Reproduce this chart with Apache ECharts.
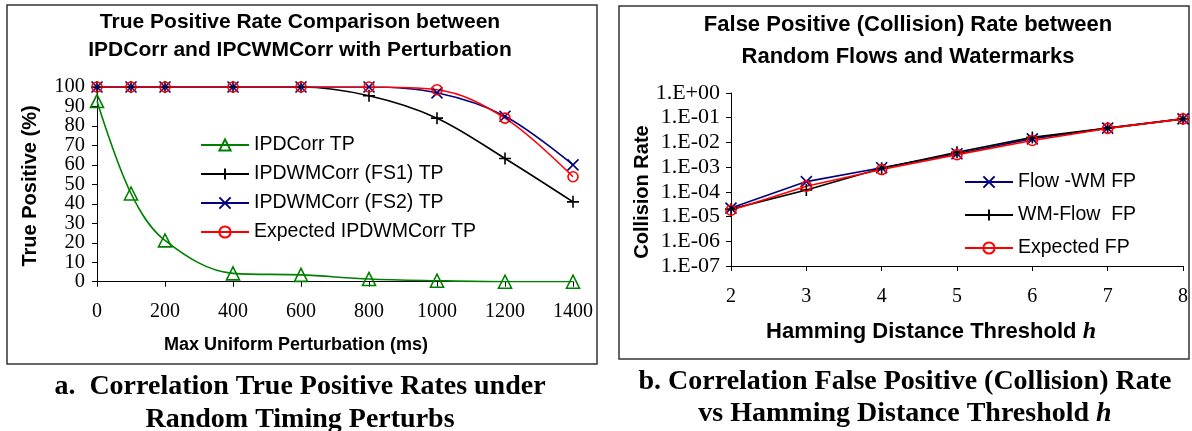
<!DOCTYPE html>
<html><head><meta charset="utf-8">
<script src="https://cdn.jsdelivr.net/npm/echarts@6/dist/echarts.min.js"></script>
<style>html,body{margin:0;padding:0;background:#fff}#c{width:1192px;height:431px}</style>
</head><body><div id="c"></div>
<script>
// ---- Left chart data ----
const perturbX = [0, 100, 200, 400, 600, 800, 1000, 1200, 1400];
const ipdCorrTP = [92.8, 45.3, 21.2, 4.3, 3.5, 1.4, 0.5, 0, 0];
const fs1TP = [100, 100, 100, 100, 100, 95.5, 84, 63.3, 41];
const fs2TP = [100, 100, 100, 100, 100, 100, 97, 85, 60];
const expectedTP = [100, 100, 100, 100, 100, 100, 98.6, 84, 53.9];
const leftNames = ['IPDCorr TP', 'IPDWMCorr (FS1) TP', 'IPDWMCorr (FS2) TP', 'Expected IPDWMCorr TP'];

// ---- Right chart data ----
const hammingX = [2, 3, 4, 5, 6, 7, 8];
const flowWMFP = [2.2e-5, 2.6e-4, 9.5e-4, 3.5e-3, 1.4e-2, 3.8e-2, 9e-2];
const wmFlowFP = [2.0e-5, 1.2e-4, 9.0e-4, 4.0e-3, 1.6e-2, 3.8e-2, 9e-2];
const expectedFP = [1.8e-5, 1.7e-4, 8.0e-4, 3.2e-3, 1.2e-2, 3.7e-2, 9e-2];
const rightNames = ['Flow -WM FP', 'WM-Flow  FP', 'Expected FP'];
const logTickLabels = ['1.E-07', '1.E-06', '1.E-05', '1.E-04', '1.E-03', '1.E-02', '1.E-01', '1.E+00'];

const SANS = 'Liberation Sans, Arial, sans-serif';
const SERIF = 'Liberation Serif, Times New Roman, serif';
const pair = (xs, ys) => xs.map((x, i) => [x, ys[i]]);

const GREEN = '#008000', BLACK = '#000000', BLUE = '#000080', RED = '#ff0000';
const PLUS = 'path://M5,0L5,10M0,5L10,5';
const CROSS = 'path://M0,0L10,10M10,0L0,10';

function mk(name, data, color, symbol, size, xi, yi, smooth) {
  return {
    name, type: 'line', xAxisIndex: xi, yAxisIndex: yi, data,
    smooth: smooth, symbol, symbolSize: size,
    lineStyle: { color, width: 1.6 },
    itemStyle: { color: 'rgba(255,255,255,0)', borderColor: color, borderWidth: 1.6 },
    emphasis: { disabled: true }, animation: false
  };
}

const axisLineStyle = { lineStyle: { color: '#000', width: 1 } };
const tickStyle = { show: true, length: 5, interval: 0, lineStyle: { color: '#000' } };
const plain = v => String(v);
const leftYLabel = { fontFamily: SERIF, fontSize: 20.5, color: '#000', margin: 12, interval: 0, hideOverlap: false };

const option = {
  animation: false,
  grid: [
    { left: 97, top: 87, width: 476, height: 194.7 },
    { left: 731, top: 93, width: 452, height: 173 }
  ],
  xAxis: [
    { gridIndex: 0, type: 'value', min: 0, max: 1400, interval: 200,
      axisLine: axisLineStyle, axisTick: tickStyle, splitLine: { show: false },
      axisLabel: { fontFamily: SERIF, fontSize: 20, color: '#000', margin: 20, formatter: plain,
        interval: 0, showMinLabel: true, showMaxLabel: true } },
    { gridIndex: 1, type: 'value', min: 2, max: 8, interval: 1,
      axisLine: axisLineStyle, axisTick: tickStyle, splitLine: { show: false },
      axisLabel: { fontFamily: SERIF, fontSize: 20, color: '#000', margin: 21, formatter: plain,
        interval: 0, showMinLabel: true, showMaxLabel: true } }
  ],
  yAxis: [
    // left chart: labels at multiples of 20
    { gridIndex: 0, type: 'value', min: 0, max: 100, interval: 10,
      axisLine: { show: true, lineStyle: { color: '#000' } }, axisTick: tickStyle, splitLine: { show: false },
      axisLabel: Object.assign({}, leftYLabel, { showMinLabel: true, showMaxLabel: true,
        formatter: v => (Math.round(v) % 20 === 0 ? String(v) : '') }) },
    // left chart overlay axis: labels at odd tens
    { gridIndex: 0, type: 'value', min: 0, max: 100, interval: 10, position: 'left', offset: 0,
      axisLine: { show: false }, axisTick: { show: false }, splitLine: { show: false },
      axisLabel: Object.assign({}, leftYLabel, {
        formatter: v => (Math.round(v) % 20 === 10 ? String(v) : '') }) },
    { gridIndex: 1, type: 'log', logBase: 10, min: 1e-7, max: 1,
      axisLine: { show: true, lineStyle: { color: '#000' } }, axisTick: tickStyle, splitLine: { show: false },
      axisLabel: { fontFamily: SERIF, fontSize: 22, color: '#000', margin: 11,
        interval: 0, showMinLabel: true, showMaxLabel: true, hideOverlap: false,
        formatter: v => logTickLabels[Math.round(Math.log10(v)) + 7] } }
  ],
  legend: [
    { orient: 'vertical', left: 195, top: 130, itemWidth: 48, itemHeight: 14, itemGap: 9,
      data: leftNames, textStyle: { fontFamily: SANS, fontSize: 19.5, color: '#000', lineHeight: 20 },
      selectedMode: false },
    { orient: 'vertical', left: 959, top: 167, itemWidth: 48, itemHeight: 14, itemGap: 13,
      data: rightNames, textStyle: { fontFamily: SANS, fontSize: 19.5, color: '#000', lineHeight: 20 },
      selectedMode: false }
  ],
  series: [
    mk(leftNames[0], pair(perturbX, ipdCorrTP), GREEN, 'triangle', 13, 0, 0, 0.35),
    mk(leftNames[1], pair(perturbX, fs1TP), BLACK, PLUS, 12, 0, 0, 0.35),
    mk(leftNames[2], pair(perturbX, fs2TP), BLUE, CROSS, 11, 0, 0, 0.35),
    mk(leftNames[3], pair(perturbX, expectedTP), RED, 'circle', 10, 0, 0, 0.35),
    mk(rightNames[0], pair(hammingX, flowWMFP), BLUE, CROSS, 11, 1, 2, false),
    mk(rightNames[1], pair(hammingX, wmFlowFP), BLACK, PLUS, 12, 1, 2, false),
    mk(rightNames[2], pair(hammingX, expectedFP), RED, 'circle', 10, 1, 2, false)
  ],
  graphic: [
    { type: 'rect', shape: { x: 7, y: 5, width: 590, height: 359 }, style: { fill: 'none', stroke: '#333', lineWidth: 1.5 }, silent: true },
    { type: 'rect', shape: { x: 619, y: 6, width: 570, height: 353 }, style: { fill: 'none', stroke: '#333', lineWidth: 1.5 }, silent: true },
    { type: 'text', x: 300, y: 22, style: { text: 'True Positive Rate Comparison between', font: 'bold 21px ' + SANS, textAlign: 'center', textVerticalAlign: 'middle', fill: '#000' } },
    { type: 'text', x: 300, y: 50, style: { text: 'IPDCorr and IPCWMCorr with Perturbation', font: 'bold 21px ' + SANS, textAlign: 'center', textVerticalAlign: 'middle', fill: '#000' } },
    { type: 'text', x: 908, y: 25, style: { text: 'False Positive (Collision) Rate between', font: 'bold 22px ' + SANS, textAlign: 'center', textVerticalAlign: 'middle', fill: '#000' } },
    { type: 'text', x: 908, y: 57, style: { text: 'Random Flows and Watermarks', font: 'bold 22px ' + SANS, textAlign: 'center', textVerticalAlign: 'middle', fill: '#000' } },
    { type: 'text', x: 296, y: 345, style: { text: 'Max Uniform Perturbation (ms)', font: 'bold 18px ' + SANS, textAlign: 'center', textVerticalAlign: 'middle', fill: '#000' } },
    { type: 'text', x: 30, y: 186, rotation: Math.PI / 2, style: { text: 'True Positive (%)', font: 'bold 20px ' + SANS, textAlign: 'center', textVerticalAlign: 'middle', fill: '#000' } },
    { type: 'text', x: 642, y: 192, rotation: Math.PI / 2, style: { text: 'Collision Rate', font: 'bold 20px ' + SANS, textAlign: 'center', textVerticalAlign: 'middle', fill: '#000' } },
    { type: 'text', x: 931, y: 332, style: { text: '{a|Hamming Distance Threshold }{h|h}', textAlign: 'center', textVerticalAlign: 'middle',
        rich: { a: { font: 'bold 22px ' + SANS, fill: '#000' }, h: { font: 'italic bold 24px ' + SERIF, fill: '#000' } } } },
    { type: 'text', x: 300, y: 387, style: { text: 'a.  Correlation True Positive Rates under', font: 'bold 28px ' + SERIF, textAlign: 'center', textVerticalAlign: 'middle', fill: '#000' } },
    { type: 'text', x: 300, y: 420, style: { text: 'Random Timing Perturbs', font: 'bold 28px ' + SERIF, textAlign: 'center', textVerticalAlign: 'middle', fill: '#000' } },
    { type: 'text', x: 905, y: 382, style: { text: 'b. Correlation False Positive (Collision) Rate', font: 'bold 28px ' + SERIF, textAlign: 'center', textVerticalAlign: 'middle', fill: '#000' } },
    { type: 'text', x: 905, y: 414, style: { text: '{a|vs Hamming Distance Threshold }{h|h}', textAlign: 'center', textVerticalAlign: 'middle',
        rich: { a: { font: 'bold 28px ' + SERIF, fill: '#000' }, h: { font: 'italic bold 28px ' + SERIF, fill: '#000' } } } }
  ]
};
const chart = echarts.init(document.getElementById('c'), null, { renderer: 'canvas' });
chart.setOption(option);
</script>
</body></html>
